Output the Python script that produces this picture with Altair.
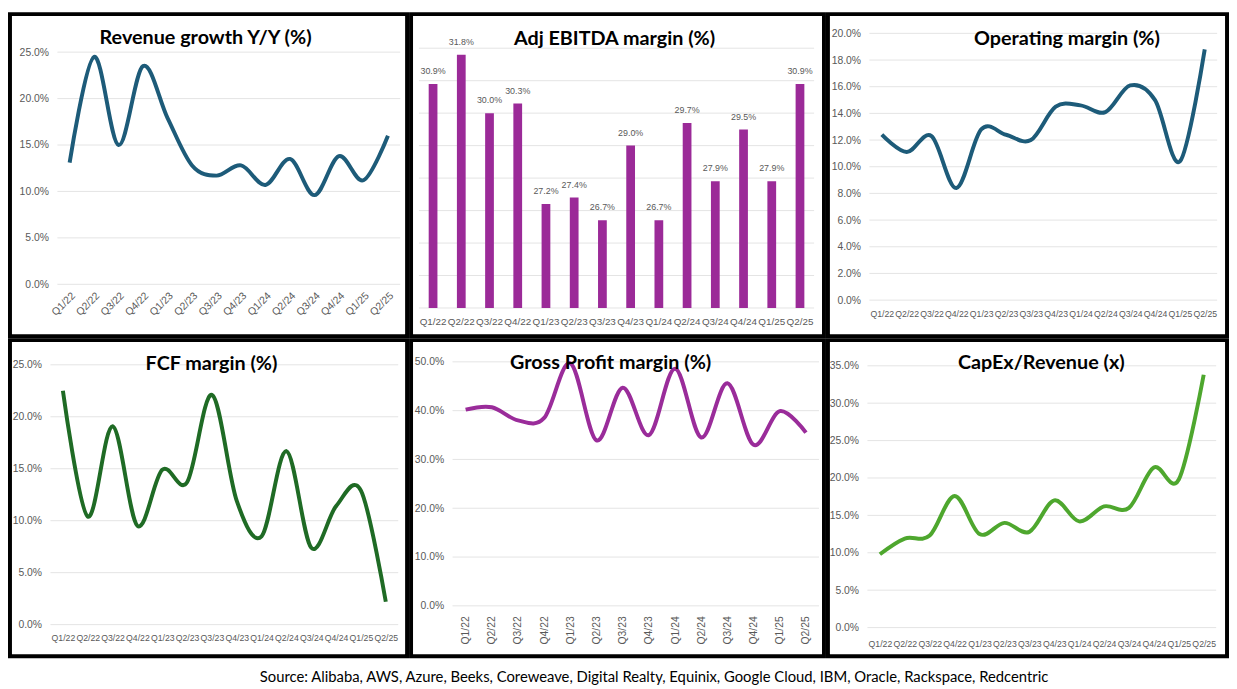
import altair as alt
import pandas as pd

quarters = ["Q1/22", "Q2/22", "Q3/22", "Q4/22", "Q1/23", "Q2/23", "Q3/23",
            "Q4/23", "Q1/24", "Q2/24", "Q3/24", "Q4/24", "Q1/25", "Q2/25"]

revenue_growth = [13.1, 24.5, 15.0, 23.5, 17.9, 12.8, 11.7, 12.8, 10.7, 13.5, 9.6, 13.8, 11.2, 16.0]
adj_ebitda = [30.9, 31.8, 30.0, 30.3, 27.2, 27.4, 26.7, 29.0, 26.7, 29.7, 27.9, 29.5, 27.9, 30.9]
operating = [12.4, 11.1, 12.3, 8.4, 12.8, 12.4, 12.0, 14.5, 14.6, 14.1, 16.1, 15.0, 10.4, 18.8]
fcf = [22.5, 10.4, 19.1, 9.5, 14.9, 13.7, 22.1, 11.9, 8.5, 16.7, 7.4, 11.4, 12.9, 2.2]
gross = [40.2, 40.7, 38.0, 38.5, 49.7, 33.9, 44.7, 35.0, 48.6, 34.5, 45.6, 33.0, 39.9, 35.5]
capex = [9.8, 11.9, 12.3, 17.6, 12.5, 14.0, 12.8, 17.0, 14.2, 16.2, 16.0, 21.4, 19.8, 33.8]

ticks_revenue = [0, 5, 10, 15, 20, 25]
ticks_ebitda = [24, 25, 26, 27, 28, 29, 30, 31, 32]
ticks_operating = [0, 2, 4, 6, 8, 10, 12, 14, 16, 18, 20]
ticks_fcf = [0, 5, 10, 15, 20, 25]
ticks_gross = [0, 10, 20, 30, 40, 50]
ticks_capex = [0, 5, 10, 15, 20, 25, 30, 35]

titles = ["Revenue growth Y/Y (%)", "Adj EBITDA margin (%)", "Operating margin (%)",
          "FCF margin (%)", "Gross Profit margin (%)", "CapEx/Revenue (x)"]
source = ("Source: Alibaba, AWS, Azure, Beeks, Coreweave, Digital Realty, Equinix, "
          "Google Cloud, IBM, Oracle, Rackspace, Redcentric")

NARROW = "Liberation Sans Narrow, Arial Narrow, Liberation Sans, Arial, sans-serif"
TITLE_FONT = "Lato"
LABEL_COLOR = "#595959"
GRID_COLOR = "#e4e4e4"
one = pd.DataFrame({"k": [0]})
PCT = "format(datum.value, '.1f') + '%'"


def title_text(text, tx, ty):
    return alt.Chart(one).mark_text(font=TITLE_FONT, fontWeight="bold", fontSize=20,
                                    color="black", align="center", baseline="middle").encode(
        x=alt.value(tx), y=alt.value(ty), text=alt.value(text))


def line_panel(values, color, ticks, title, geom, tpos, angle, lpad, fsize):
    # geom: view width W, height H, plot x0, x1, plot y top, y bottom
    W, H, x0, x1, yt, yb = geom
    df = pd.DataFrame({"q": quarters, "v": values})
    yscale = alt.Scale(domain=[ticks[0], ticks[-1]], nice=False, zero=False, range=[yb, yt])
    yaxis = alt.Axis(values=ticks, labelExpr=PCT, labelPadding=9, grid=False,
                     offset=-x0, labelFontSize=10.5)
    grid = alt.Chart(pd.DataFrame({"v": ticks})).mark_rule(
        color=GRID_COLOR, strokeWidth=1).encode(
        y=alt.Y("v:Q", title=None, scale=yscale, axis=yaxis),
        x=alt.value(x0), x2=alt.value(x1))
    line = alt.Chart(df).mark_line(color=color, strokeWidth=4, interpolate="cardinal").encode(
        x=alt.X("q:N", sort=quarters, title=None,
                scale=alt.Scale(type="point", padding=0.5, range=[x0, x1]),
                axis=alt.Axis(labelAngle=angle, labelPadding=lpad, grid=False,
                              offset=-(H - yb), labelFontSize=fsize)),
        y=alt.Y("v:Q", title=None, scale=yscale, axis=yaxis),
    )
    return alt.layer(grid, line, title_text(title, *tpos)).properties(width=W, height=H)


def bar_panel():
    W, H, x0, x1, yt, yb = (418, 326, 8, 408, 34.5, 297.5)
    df = pd.DataFrame({"q": quarters, "v": adj_ebitda})
    yscale = alt.Scale(domain=[ticks_ebitda[0], ticks_ebitda[-1]], nice=False, zero=False,
                       range=[yb, yt])
    grid = alt.Chart(pd.DataFrame({"v": ticks_ebitda})).mark_rule(
        color=GRID_COLOR, strokeWidth=1).encode(
        y=alt.Y("v:Q", title=None, scale=yscale, axis=None),
        x=alt.value(x0), x2=alt.value(x1))
    base = alt.Chart(df).encode(
        x=alt.X("q:N", sort=quarters, title=None,
                scale=alt.Scale(type="band", paddingInner=0.69, paddingOuter=0.345,
                                range=[x0, x1]),
                axis=alt.Axis(labelAngle=0, labelPadding=9, grid=False,
                              offset=-(H - yb), labelFontSize=10)),
        y=alt.Y("v:Q", title=None, scale=yscale, axis=None),
    )
    bars = base.mark_bar(color="#9b2a98").encode(y2=alt.datum(ticks_ebitda[0]))
    labels = base.transform_calculate(lab="format(datum.v, '.1f') + '%'").mark_text(
        baseline="bottom", dy=-8, fontSize=9, font=NARROW, color=LABEL_COLOR).encode(
        text="lab:N")
    return alt.layer(grid, bars, labels,
                     title_text(titles[1], 206, 25.5)).properties(width=W, height=H)


p1 = line_panel(revenue_growth, "#1d5b79", ticks_revenue, titles[0],
                (402, 326, 48, 395, 38.5, 273.5), (198, 24.5), -45, 6, 10.5)
p2 = bar_panel()
p3 = line_panel(operating, "#1d5b79", ticks_operating, titles[2],
                (404, 326, 42, 394, 19.5, 289.5), (242, 25.5), 0, 10, 8.8)
p4 = line_panel(fcf, "#1f6b25", ticks_fcf, titles[3],
                (402, 320, 41, 393, 25, 288), (204, 24), 0, 9, 8.8)
p5 = line_panel(gross, "#9a2c9a", ticks_gross, titles[4],
                (418, 320, 42, 413, 22, 269), (202, 23), -90, 10, 10.5)
p6 = line_panel(capex, "#4ea72e", ticks_capex, titles[5],
                (404, 320, 40, 393, 26, 291), (216, 23), 0, 12, 8.8)

row1 = alt.hconcat(p1, p2, p3, spacing=0)
row2 = alt.hconcat(p4, p5, p6, spacing=0)

chart = alt.vconcat(row1, row2, spacing=0).properties(
    title=alt.TitleParams(text=source, orient="bottom", anchor="middle", fontSize=15,
                          font=TITLE_FONT, fontWeight="normal", color="black",
                          offset=12, dx=36),
    padding=0,
    background="white",
).configure_view(stroke="black", strokeWidth=4).configure_axis(
    labelFont=NARROW, labelColor=LABEL_COLOR, domain=False, ticks=False,
)

chart.save("out.html", embed_options={"renderer": "svg", "actions": False})
